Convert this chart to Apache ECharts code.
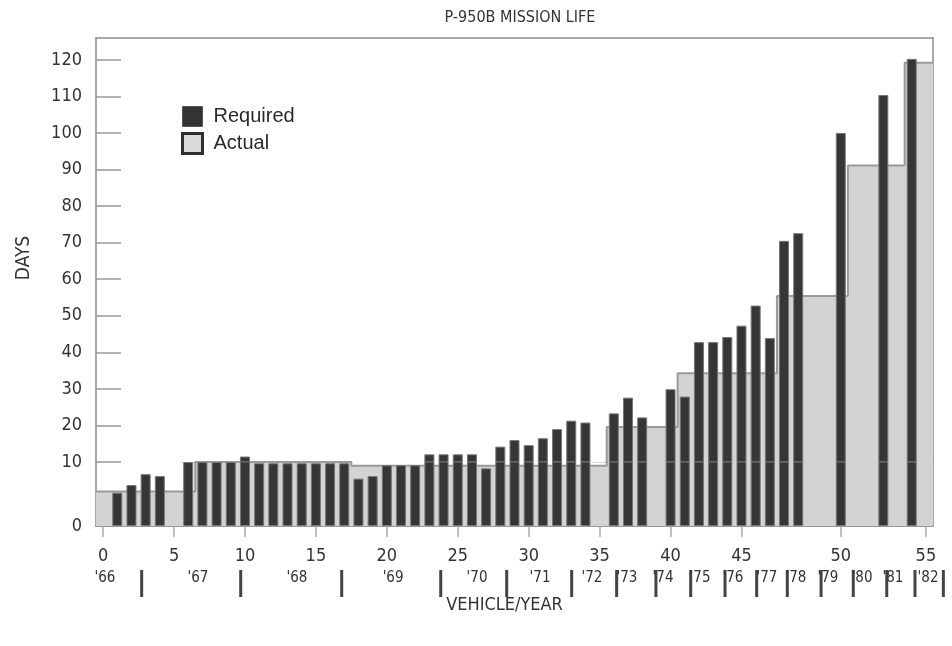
<!DOCTYPE html>
<html><head><meta charset="utf-8">
<script src="https://cdn.jsdelivr.net/npm/echarts@6/dist/echarts.min.js"></script>
<style>html,body{margin:0;padding:0;background:#fff}#c{width:952px;height:646px}</style>
</head><body><div id="c"></div>
<script>
// ---------- data ----------
const vehicleSlots = ['0','1','2','3','4','5','6','7','8','9','10','11','12','13','14','15','16','17','18','19',
  '20','21','22','23','24','25','26','27','28','29','30','31','32','33','34','35','36','37','38','39',
  '40','41','42','43','44','45','46','47','48','49','50','51','52','53','54','55','56','57','58'];
const required = [null,5.2,6.4,8.1,7.8,null,10,10,10,10,11.5,9.8,9.8,9.8,9.8,9.8,9.8,9.8,7.4,7.8,
  9.5,9.5,9.5,12.1,12.1,12.1,12.1,9.0,14.2,16.0,14.6,16.5,19.0,21.3,20.8,null,23.3,27.6,22.2,null,
  29.9,27.9,42.8,42.8,44.2,47.3,52.8,43.9,70.5,72.6,null,null,100,null,null,110.4,null,120.3,null];
const actual = [5.4,5.4,5.4,5.4,5.4,5.4,5.4,10,10,10,10,10,10,10,10,10,10,10,9.4,9.4,
  9.4,9.4,9.4,9.4,9.4,9.4,9.4,9.4,9.4,9.4,9.4,9.4,9.4,9.4,9.4,9.4,19.6,19.6,19.6,19.6,
  19.6,34.3,34.3,34.3,34.3,34.3,34.3,34.3,55.4,55.4,55.4,55.4,55.4,91.1,91.1,91.1,91.1,119.2,119.2];
// x tick labels: slot index -> text
const xTickLabels = {0:'0',5:'5',10:'10',15:'15',20:'20',25:'25',30:'30',35:'35',40:'40',45:'45',52:'50',58:'55'};
const yearLabels = ["'66","'67","'68","'69","'70","'71","'72","'73","'74","'75","'76","'77","'78","'79","'80","'81","'82"];
const yearLabelAt = [0.13,6.69,13.67,20.44,26.36,30.80,34.46,36.93,39.47,42.08,44.40,46.80,48.84,51.10,53.50,55.68,58.15];
const yearBreaksAt = [2.72,9.70,16.82,23.80,28.45,33.03,36.20,38.97,41.42,43.84,46.07,48.23,50.61,52.88,55.24,57.23,59.23];

// ---------- derived ----------
const BREAK = 10; // the value axis is drawn in two parts: 0-10 (stretched) and 10-126
const boundaries = vehicleSlots.concat(['59']);
const actualStep = actual.concat([actual[actual.length - 1]]);
// upper panel only needs the part of the outline above the break (keep the point before a rise for the riser)
const actualStepUpper = actualStep.map((v, i, a) =>
  (v >= BREAK || (i + 1 < a.length && a[i + 1] >= BREAK && a[i + 1] > v)) ? v : null);

const NARROW = '"Liberation Sans Narrow", "DejaVu Sans Condensed", sans-serif';
const TXT = '#333333';
const AXIS = '#8c8c8c';

const chart = echarts.init(document.getElementById('c'), null, {renderer: 'canvas'});

const showTick = (idx) => Object.prototype.hasOwnProperty.call(xTickLabels, idx);
const noAxis = {show: false};

const option = {
  animation: false,
  backgroundColor: '#ffffff',
  title: {
    text: 'P-950B MISSION LIFE', left: 515, top: 5, textAlign: 'center',
    textStyle: {fontFamily: NARROW, fontSize: 16, fontWeight: 'normal', color: TXT}
  },
  legend: {
    orient: 'vertical', left: 176, top: 101, itemWidth: 20, itemHeight: 20, itemGap: 5,
    selectedMode: false,
    textStyle: {fontFamily: '"Liberation Sans", Arial, sans-serif', fontSize: 20, color: '#2a2a2a', padding: [0, 0, 0, 6]},
    data: [
      {name: 'Required', icon: 'rect', itemStyle: {color: '#333333', borderColor: '#555', borderWidth: 1}},
      {name: 'Actual', icon: 'rect', itemStyle: {color: '#d9d9d9', borderColor: '#2e2e2e', borderWidth: 3}}
    ]
  },
  grid: [
    {left: 96, top: 38, width: 837, height: 424, outerBoundsMode: 'none', containLabel: false},
    {left: 96, top: 462, width: 837, height: 64, outerBoundsMode: 'none', containLabel: false}
  ],
  xAxis: [
    {gridIndex: 0, type: 'category', data: vehicleSlots, boundaryGap: true, position: 'top',
     axisLine: {show: true, onZero: false, lineStyle: {color: AXIS, width: 1.5}}, axisTick: noAxis, axisLabel: noAxis, splitLine: noAxis},
    {gridIndex: 0, type: 'category', data: boundaries, boundaryGap: false, show: false, axisLine: {onZero: false}},
    {gridIndex: 1, type: 'category', data: vehicleSlots, boundaryGap: true, position: 'bottom',
     axisLine: {show: true, onZero: false, lineStyle: {color: '#999', width: 2}},
     axisTick: {show: true, alignWithLabel: true, interval: showTick, length: 11, lineStyle: {color: '#aaa', width: 1.5}},
     axisLabel: {show: true, interval: showTick, formatter: (v, i) => xTickLabels[i] || '', margin: 21,
                 fontFamily: NARROW, fontSize: 18, color: TXT},
     splitLine: noAxis,
     name: 'VEHICLE/YEAR', nameLocation: 'middle', nameGap: 70,
     nameTextStyle: {fontFamily: NARROW, fontSize: 18, color: TXT, padding: [0, 20, 0, 0]}},
    {gridIndex: 1, type: 'category', data: boundaries, boundaryGap: false, show: false, axisLine: {onZero: false}},
    {gridIndex: 1, type: 'value', min: -0.5, max: 58.5, show: false, axisLine: {onZero: false}}
  ],
  yAxis: [
    {gridIndex: 0, type: 'value', min: BREAK, max: 126, interval: 10,
     axisLine: {show: true, onZero: false, lineStyle: {color: AXIS, width: 1.5}},
     axisTick: {show: true, inside: true, length: 25, lineStyle: {color: '#999', width: 1.5}},
     axisLabel: {show: true, showMinLabel: false, showMaxLabel: false, margin: 14, fontFamily: NARROW, fontSize: 18, color: TXT},
     splitLine: noAxis,
     name: 'DAYS', nameLocation: 'middle', nameGap: 62, nameRotate: 90,
     nameTextStyle: {fontFamily: NARROW, fontSize: 19, color: TXT, padding: [0, 16, 0, 0]}},
    {gridIndex: 1, type: 'value', min: 0, max: BREAK, interval: 10,
     axisLine: {show: true, onZero: false, lineStyle: {color: AXIS, width: 1.5}},
     axisTick: {show: true, inside: true, length: 25, lineStyle: {color: '#999', width: 1.5}},
     axisLabel: {show: true, margin: 14, fontFamily: NARROW, fontSize: 18, color: TXT},
     splitLine: noAxis},
    {gridIndex: 0, type: 'value', min: BREAK, max: 126, position: 'right',
     axisLine: {show: true, onZero: false, lineStyle: {color: AXIS, width: 1.5}}, axisTick: noAxis, axisLabel: noAxis, splitLine: noAxis},
    {gridIndex: 1, type: 'value', min: 0, max: BREAK, position: 'right',
     axisLine: {show: true, onZero: false, lineStyle: {color: AXIS, width: 1.5}}, axisTick: noAxis, axisLabel: noAxis, splitLine: noAxis}
  ],
  series: [
    {name: 'Actual', type: 'line', xAxisIndex: 1, yAxisIndex: 0, data: actualStepUpper, step: 'end', symbol: 'none',
     connectNulls: false,
     lineStyle: {color: '#9a9a9a', width: 2}, areaStyle: {color: '#d3d3d3', opacity: 1, origin: 'start'}, z: 1, silent: true},
    {name: 'Actual', type: 'line', xAxisIndex: 3, yAxisIndex: 1, data: actualStep, step: 'end', symbol: 'none',
     lineStyle: {color: '#9a9a9a', width: 2}, areaStyle: {color: '#d3d3d3', opacity: 1, origin: 'start'}, z: 1, silent: true},
    {name: 'Required', type: 'bar', xAxisIndex: 0, yAxisIndex: 0, data: required, barWidth: 10, clip: true,
     itemStyle: {color: '#363636', borderColor: '#777', borderWidth: 1}, z: 3},
    {name: 'Required', type: 'bar', xAxisIndex: 2, yAxisIndex: 1, data: required, barWidth: 10, clip: true,
     itemStyle: {color: '#363636', borderColor: '#777', borderWidth: 1}, z: 3}
  ]
};
chart.setOption(option);

// year row below the vehicle axis, positioned through the hidden vehicle value axis
const yearGraphics = [];
yearBreaksAt.forEach(function (v) {
  const x = chart.convertToPixel({xAxisIndex: 4}, v);
  yearGraphics.push({type: 'rect', silent: true, shape: {x: x - 1.5, y: 570, width: 3, height: 27}, style: {fill: '#444'}});
});
yearLabels.forEach(function (t, i) {
  const x = chart.convertToPixel({xAxisIndex: 4}, yearLabelAt[i]);
  yearGraphics.push({type: 'text', silent: true, x: x, y: 578,
    style: {text: t, fill: TXT, fontFamily: NARROW, fontSize: 15, align: 'center', verticalAlign: 'middle'}});
});
chart.setOption({graphic: yearGraphics});
</script>
</body></html>
